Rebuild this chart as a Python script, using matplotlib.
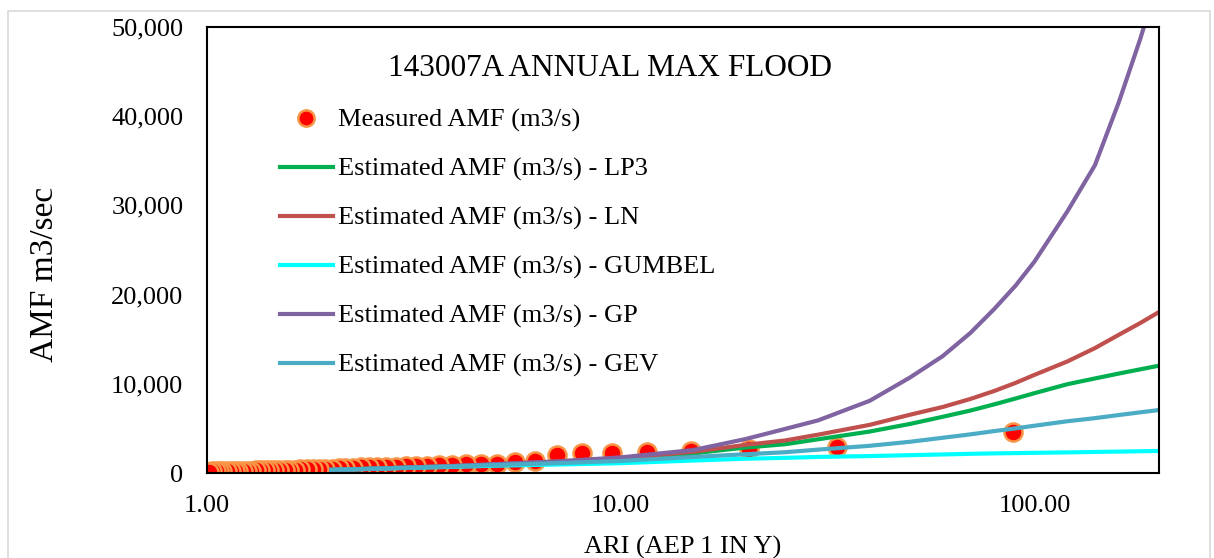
import matplotlib
matplotlib.use("Agg")
import matplotlib.pyplot as plt
from matplotlib.patches import Rectangle
from matplotlib.ticker import FixedLocator, FuncFormatter

plt.rcParams['font.family'] = ['Liberation Serif', 'DejaVu Serif']

# measured annual max floods (ARI from plotting position, flow in m3/s)
measured_ari = [88.67, 33.25, 20.46, 14.78, 11.57, 9.50, 8.06, 7.00, 6.19, 5.54,
                5.02, 4.59, 4.22, 3.91, 3.64, 3.41, 3.20, 3.02, 2.86, 2.71,
                2.58, 2.46, 2.35, 2.25, 2.16, 2.08, 2.00, 1.93, 1.86, 1.80,
                1.74, 1.68, 1.63, 1.58, 1.54, 1.49, 1.45, 1.41, 1.38, 1.34,
                1.31, 1.28, 1.25, 1.22, 1.19, 1.17, 1.14, 1.12, 1.09, 1.07,
                1.05, 1.03, 1.01]
measured_amf = [4560, 2950, 2660, 2500, 2390, 2280, 2210, 2020, 1380, 1270,
                1010, 1010, 970, 900, 900, 820, 780, 780, 710, 710,
                710, 670, 640, 610, 580, 540, 500, 480, 460, 440,
                420, 410, 390, 380, 360, 350, 340, 330, 310, 300,
                290, 280, 270, 260, 250, 240, 230, 220, 210, 200,
                190, 180, 160]

# fitted distributions, read at these ARIs
fit_ari = [2, 3, 4, 5, 7, 10, 15, 20, 25, 30, 40, 50, 60, 70, 80, 90, 100,
           120, 140, 160, 180, 200]
lp3 = [350, 600, 780, 950, 1220, 1550, 2210, 2850, 3230, 3780, 4650, 5500,
       6300, 7000, 7700, 8350, 8950, 9950, 10600, 11150, 11620, 12030]
ln = [350, 600, 800, 980, 1280, 1650, 2390, 3150, 3650, 4300, 5400, 6530,
      7400, 8300, 9200, 10100, 11000, 12500, 14000, 15500, 16800, 18050]
gumbel = [340, 560, 700, 820, 950, 1100, 1400, 1600, 1700, 1800, 1900, 2000,
          2080, 2150, 2200, 2230, 2260, 2310, 2360, 2400, 2440, 2470]
gp = [330, 600, 800, 1000, 1300, 1750, 2580, 3800, 4950, 5900, 8100, 10700,
      13100, 15700, 18400, 21000, 23700, 29300, 34500, 41600, 48600, 55500]
gev = [350, 580, 750, 900, 1100, 1350, 1800, 2100, 2330, 2620, 3050, 3500,
       3950, 4330, 4700, 5000, 5300, 5800, 6150, 6500, 6800, 7060]

W, H = 1214, 558
fig = plt.figure(figsize=(W / 100, H / 100), dpi=100)
fig.patches.append(Rectangle((8 / W, -0.05), (1210 - 8) / W, 1.05 - 11 / H,
                             transform=fig.transFigure, fill=False,
                             edgecolor='#d9d9d9', linewidth=1.2))

ax = fig.add_axes([207 / W, 1 - 473 / H, (1159 - 207) / W, (473 - 27) / H])

ax.plot(measured_ari, measured_amf, 'o', color='#ff0000', markersize=13,
        markeredgecolor='#f79646', markeredgewidth=1.8,
        label='Measured AMF (m3/s)')
ax.plot(fit_ari, lp3, color='#00b050', lw=3, label='Estimated AMF (m3/s) - LP3')
ax.plot(fit_ari, ln, color='#c0504d', lw=3, label='Estimated AMF (m3/s) - LN')
ax.plot(fit_ari, gumbel, color='#00ffff', lw=3, label='Estimated AMF (m3/s) - GUMBEL')
ax.plot(fit_ari, gp, color='#8064a2', lw=3, label='Estimated AMF (m3/s) - GP')
ax.plot(fit_ari, gev, color='#4bacc6', lw=3, label='Estimated AMF (m3/s) - GEV')

ax.set_xscale('log')
ax.set_xlim(1, 200)
ax.set_ylim(0, 50000)
ax.xaxis.set_major_locator(FixedLocator([1, 10, 100]))
ax.xaxis.set_minor_locator(FixedLocator([]))
ax.xaxis.set_major_formatter(FuncFormatter(lambda v, p: f'{v:.2f}'))
ax.set_yticks([0, 10000, 20000, 30000, 40000, 50000])
ax.yaxis.set_major_formatter(FuncFormatter(lambda v, p: f'{int(v):,}'))
ax.tick_params(axis='both', length=0, labelsize=19)
ax.tick_params(axis='y', pad=17)
ax.tick_params(axis='x', pad=16)
for s in ax.spines.values():
    s.set_color('black')
    s.set_linewidth(1.5)

ax.set_xlabel('ARI (AEP 1 IN Y)', fontsize=19)
ax.xaxis.set_label_coords(0.5, (473 - 547) / 446)
ax.xaxis.label.set_va('center')
ax.set_ylabel('AMF m3/sec', fontsize=24)
ax.yaxis.set_label_coords((45 - 207) / 952, (473 - 274) / 446)
ax.yaxis.label.set_va('center')

ax.text((610 - 207) / 952, (473 - 68) / 446, '143007A ANNUAL MAX FLOOD',
        transform=ax.transAxes, ha='center', va='center', fontsize=22.5)

ax.legend(loc='upper left', bbox_to_anchor=((280 - 207) / 952, (473 - 108.5) / 446),
          frameon=False, fontsize=19, handlelength=2.0, handletextpad=0.2,
          labelspacing=0.95, borderpad=0, borderaxespad=0, markerscale=0.9)

fig.savefig('out.png', dpi=100)
